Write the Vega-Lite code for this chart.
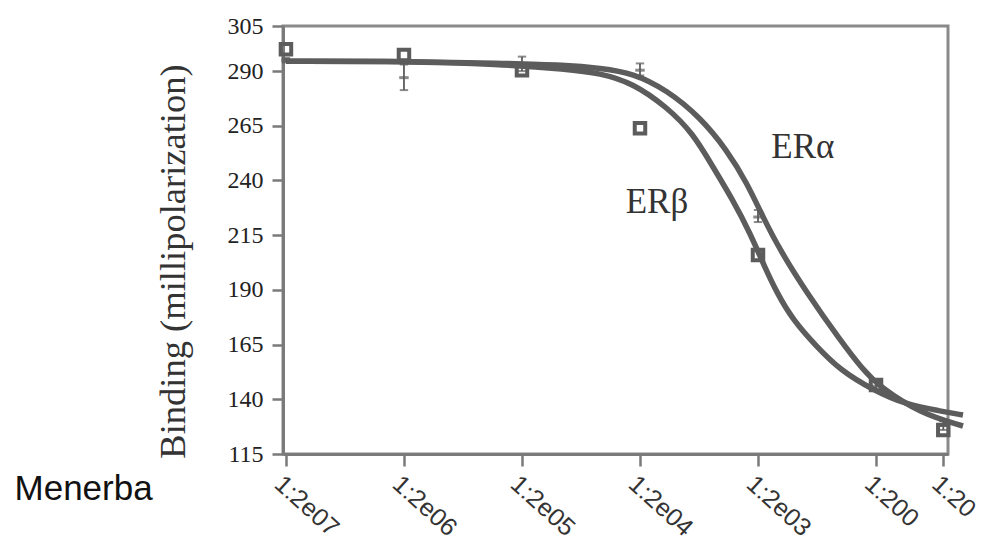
{
  "$schema": "https://vega.github.io/schema/vega-lite/v6.json",
  "width": 665,
  "height": 428,
  "autosize": {"type": "none"},
  "padding": {"left": 283, "top": 26, "right": 42, "bottom": 87},
  "background": "white",
  "config": {
    "view": {"stroke": "#8a8a8a", "strokeWidth": 3},
    "axis": {"grid": false}
  },
  "datasets": {
    "curves": [
      {"series": "ERα", "x": 0, "y": 294.5},
      {"series": "ERα", "x": 0.966, "y": 294.5},
      {"series": "ERα", "x": 1.814, "y": 293.6},
      {"series": "ERα", "x": 2.381, "y": 292.7},
      {"series": "ERα", "x": 2.661, "y": 291.3},
      {"series": "ERα", "x": 2.941, "y": 289.1},
      {"series": "ERα", "x": 3.229, "y": 281.3},
      {"series": "ERα", "x": 3.508, "y": 269.0},
      {"series": "ERα", "x": 3.737, "y": 253.9},
      {"series": "ERα", "x": 3.907, "y": 238.8},
      {"series": "ERα", "x": 4.042, "y": 223.3},
      {"series": "ERα", "x": 4.186, "y": 208.2},
      {"series": "ERα", "x": 4.415, "y": 188.5},
      {"series": "ERα", "x": 4.695, "y": 167.1},
      {"series": "ERα", "x": 4.89, "y": 153.4},
      {"series": "ERα", "x": 5.034, "y": 145.6},
      {"series": "ERα", "x": 5.373, "y": 133.7},
      {"series": "ERα", "x": 5.737, "y": 127.8},
      {"series": "ERβ", "x": 0, "y": 294.5},
      {"series": "ERβ", "x": 0.966, "y": 294.5},
      {"series": "ERβ", "x": 1.814, "y": 293.2},
      {"series": "ERβ", "x": 2.381, "y": 290.9},
      {"series": "ERβ", "x": 2.661, "y": 289.1},
      {"series": "ERβ", "x": 2.941, "y": 284.5},
      {"series": "ERβ", "x": 3.229, "y": 273.5},
      {"series": "ERβ", "x": 3.449, "y": 261.6},
      {"series": "ERβ", "x": 3.619, "y": 246.1},
      {"series": "ERβ", "x": 3.788, "y": 231.0},
      {"series": "ERβ", "x": 3.932, "y": 216.0},
      {"series": "ERβ", "x": 4.042, "y": 202.3},
      {"series": "ERβ", "x": 4.161, "y": 188.5},
      {"series": "ERβ", "x": 4.297, "y": 176.2},
      {"series": "ERβ", "x": 4.5, "y": 163.9},
      {"series": "ERβ", "x": 4.695, "y": 153.4},
      {"series": "ERβ", "x": 4.975, "y": 144.2},
      {"series": "ERβ", "x": 5.263, "y": 137.4},
      {"series": "ERβ", "x": 5.542, "y": 134.7},
      {"series": "ERβ", "x": 5.737, "y": 132.8}
    ],
    "alpha": [
      {"x": 0, "y": 295, "lo": 294, "hi": 296},
      {"x": 1, "y": 287, "lo": 281.3, "hi": 293},
      {"x": 2, "y": 293, "lo": 290, "hi": 296.6},
      {"x": 3, "y": 290.4, "lo": 288, "hi": 293.5},
      {"x": 4, "y": 223.3, "lo": 221, "hi": 226.5},
      {"x": 5, "y": 146, "lo": 144, "hi": 148},
      {"x": 5.57, "y": 128, "lo": 126, "hi": 130}
    ],
    "beta": [
      {"x": 0, "y": 300},
      {"x": 1, "y": 297.3},
      {"x": 2, "y": 290.4},
      {"x": 3, "y": 263.9},
      {"x": 4, "y": 205.9},
      {"x": 5, "y": 146.5},
      {"x": 5.57, "y": 126}
    ],
    "labels": [
      {"label": "ERα", "x": 4.38, "y": 250.2},
      {"label": "ERβ", "x": 3.144, "y": 225.1}
    ],
    "caption": [
      {"label": "Menerba", "x": -2.3, "y": 94}
    ]
  },
  "layer": [
    {
      "data": {"name": "curves"},
      "mark": {"type": "line", "interpolate": "basis", "strokeWidth": 5.5, "color": "#5c5c5c", "clip": false},
      "encoding": {
        "x": {
          "field": "x", "type": "quantitative",
          "scale": {"domain": [-0.025, 5.61], "nice": false, "zero": false},
          "axis": {
            "title": null,
            "values": [0, 1, 2, 3, 4, 5, 5.57],
            "labelExpr": "datum.value < 0.5 ? '1:2e07' : datum.value < 1.5 ? '1:2e06' : datum.value < 2.5 ? '1:2e05' : datum.value < 3.5 ? '1:2e04' : datum.value < 4.5 ? '1:2e03' : datum.value < 5.3 ? '1:200' : '1:20'",
            "labelAngle": 42,
            "labelAlign": "left",
            "labelBaseline": "top",
            "labelFont": "Liberation Sans",
            "labelFontSize": 25,
            "labelColor": "#333333",
            "labelPadding": 5,
            "labelOverlap": false,
            "labelFlush": false,
            "domainColor": "#7a7a7a",
            "domainWidth": 3,
            "tickColor": "#7a7a7a",
            "tickWidth": 2.5,
            "tickSize": 12
          }
        },
        "y": {
          "field": "y", "type": "quantitative",
          "scale": {"domain": [115, 310.6], "nice": false, "zero": false},
          "axis": {
            "title": "Binding (millipolarization)",
            "titleFont": "Liberation Serif",
            "titleFontSize": 36.5,
            "titleFontWeight": "normal",
            "titleColor": "#333333",
            "titlePadding": 35,
            "titleY": 235,
            "values": [115, 140, 165, 190, 215, 240, 265, 290, 310.6],
            "labelExpr": "datum.value > 300 ? '305' : datum.label",
            "labelFont": "Liberation Serif",
            "labelFontSize": 24,
            "labelColor": "#222222",
            "labelPadding": 9,
            "labelFlush": false,
            "labelOverlap": false,
            "domainColor": "#7a7a7a",
            "domainWidth": 3,
            "tickColor": "#7a7a7a",
            "tickWidth": 2.5,
            "tickSize": 11
          }
        },
        "detail": {"field": "series", "type": "nominal"}
      }
    },
    {
      "data": {"name": "alpha"},
      "mark": {"type": "rule", "color": "#5c5c5c", "strokeWidth": 1.8, "clip": false},
      "encoding": {
        "x": {"field": "x", "type": "quantitative"},
        "y": {"field": "lo", "type": "quantitative"},
        "y2": {"field": "hi"}
      }
    },
    {
      "data": {"name": "alpha"},
      "mark": {"type": "point", "shape": "stroke", "size": 70, "strokeWidth": 2, "color": "#5c5c5c", "clip": false},
      "encoding": {
        "x": {"field": "x", "type": "quantitative"},
        "y": {"field": "lo", "type": "quantitative"}
      }
    },
    {
      "data": {"name": "alpha"},
      "mark": {"type": "point", "shape": "stroke", "size": 70, "strokeWidth": 2, "color": "#5c5c5c", "clip": false},
      "encoding": {
        "x": {"field": "x", "type": "quantitative"},
        "y": {"field": "hi", "type": "quantitative"}
      }
    },
    {
      "data": {"name": "alpha"},
      "mark": {"type": "point", "shape": "stroke", "size": 90, "strokeWidth": 3, "color": "#5c5c5c", "clip": false},
      "encoding": {
        "x": {"field": "x", "type": "quantitative"},
        "y": {"field": "y", "type": "quantitative"}
      }
    },
    {
      "data": {"name": "beta"},
      "mark": {"type": "point", "shape": "square", "size": 110, "filled": false, "strokeWidth": 4, "color": "#5c5c5c", "opacity": 1, "clip": false},
      "encoding": {
        "x": {"field": "x", "type": "quantitative"},
        "y": {"field": "y", "type": "quantitative"}
      }
    },
    {
      "data": {"name": "labels"},
      "mark": {"type": "text", "font": "Liberation Serif", "fontSize": 35, "color": "#333333", "align": "center", "baseline": "alphabetic"},
      "encoding": {
        "x": {"field": "x", "type": "quantitative"},
        "y": {"field": "y", "type": "quantitative"},
        "text": {"field": "label"}
      }
    },
    {
      "data": {"name": "caption"},
      "mark": {"type": "text", "font": "Liberation Sans", "fontSize": 35, "color": "#111111", "align": "left", "baseline": "alphabetic", "clip": false},
      "encoding": {
        "x": {"field": "x", "type": "quantitative"},
        "y": {"field": "y", "type": "quantitative"},
        "text": {"field": "label"}
      }
    }
  ]
}
